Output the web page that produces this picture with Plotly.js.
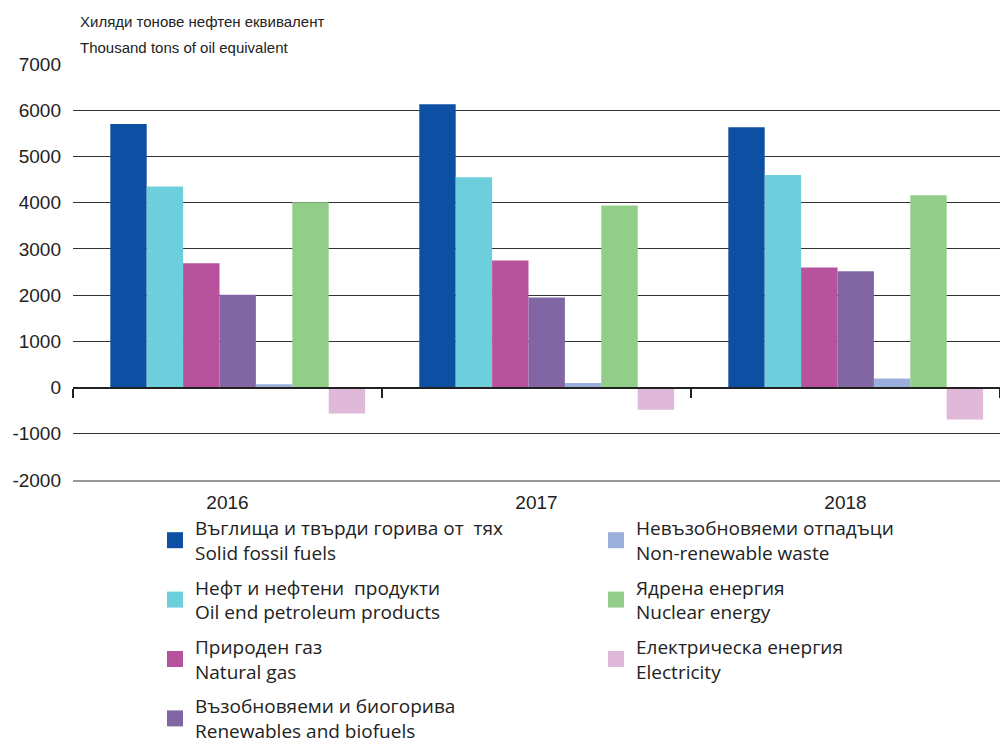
<!DOCTYPE html>
<html><head><meta charset="utf-8">
<script src="https://cdn.plot.ly/plotly-3.0.1.min.js"></script>
<style>html,body{margin:0;padding:0;background:#fff}</style>
</head><body><div id="chart" style="width:1000px;height:747px"></div>
<script>
const years = ['2016', '2017', '2018'];
const namesBg = ['Въглища и твърди горива от  тях', 'Нефт и нефтени  продукти', 'Природен газ', 'Възобновяеми и биогорива', 'Невъзобновяеми отпадъци', 'Ядрена енергия', 'Електрическа енергия'];
const namesEn = ['Solid fossil fuels', 'Oil end petroleum products', 'Natural gas', 'Renewables and biofuels', 'Non-renewable waste', 'Nuclear energy', 'Electricity'];
const solidFossil = [5700, 6130, 5630];
const oilProducts = [4350, 4550, 4600];
const naturalGas = [2690, 2750, 2600];
const renewables = [2010, 1950, 2515];
const nonRenewableWaste = [70, 100, 195];
const nuclear = [4010, 3940, 4160];
const electricity = [-560, -480, -690];
const yTicks = [-2000, -1000, 0, 1000, 2000, 3000, 4000, 5000, 6000, 7000];
const colors = ['#0d4fa3', '#6dcedc', '#b7529c', '#8166a4', '#9aafdb', '#92cd8a', '#dfb9d7'];
const legendColumn = ['legend', 'legend', 'legend', 'legend', 'legend2', 'legend2', 'legend2'];

const series = [solidFossil, oilProducts, naturalGas, renewables, nonRenewableWaste, nuclear, electricity];
const yMin = -2000, yMax = 7000;
const n = series.length;
const bw = 0.1178, shift = 0.033;
const FONT = 'Liberation Sans, Arial, sans-serif';
const LFONT = {size: 19, family: 'Open Sans, ' + FONT, color: '#222'};

const bars = series.map((vals, i) => ({
  type: 'bar',
  x: years,
  y: vals,
  name: namesBg[i] + '<br>' + namesEn[i],
  marker: {color: colors[i], line: {width: 0}},
  width: bw,
  offset: -n * bw / 2 + shift + i * bw,
  showlegend: false,
  hoverinfo: 'y+name'
}));

// legend entries (no data points), on the overlay axis that draws the zero line
const legendEntries = series.map((vals, i) => ({
  type: 'scatter', mode: 'markers',
  x: [null], y: [null], xaxis: 'x2',
  name: namesBg[i] + '<br>' + namesEn[i],
  marker: {color: colors[i], symbol: 'square', size: 16, line: {width: 0}},
  legend: legendColumn[i], legendgroup: 'g' + i,
  showlegend: true, hoverinfo: 'skip'
}));

const legendBase = {
  orientation: 'v', xref: 'container', yref: 'container',
  y: 1 - 509 / 747, xanchor: 'left', yanchor: 'top',
  font: LFONT, bgcolor: 'rgba(0,0,0,0)', traceorder: 'grouped',
  tracegroupgap: 7, itemsizing: 'trace'
};

const layout = {
  width: 1000, height: 747,
  margin: {l: 73, r: 0, t: 64, b: 267, autoexpand: false},
  paper_bgcolor: '#fff', plot_bgcolor: '#fff',
  font: {family: FONT, color: '#222'},
  barmode: 'group',
  showlegend: true,
  xaxis: {
    type: 'category', categoryorder: 'array', categoryarray: years,
    range: [-0.5, 2.5], showgrid: false, zeroline: false,
    ticks: '', showline: true, linecolor: '#999', linewidth: 2,
    ticklabelstandoff: 4, automargin: false, tickangle: 0,
    tickfont: {size: 19, family: FONT, color: '#222'}
  },
  xaxis2: {
    overlaying: 'x', anchor: 'free', side: 'bottom',
    position: (0 - yMin) / (yMax - yMin),
    type: 'linear', range: [-0.5, 2.5], tickmode: 'linear', tick0: -0.5, dtick: 1,
    ticks: 'outside', ticklen: 9, tickwidth: 2, tickcolor: '#222',
    showticklabels: false, showline: true, linecolor: '#222', linewidth: 2,
    showgrid: false, zeroline: false, fixedrange: true, automargin: false
  },
  yaxis: {
    range: [yMin, yMax], tickmode: 'array', tickvals: yTicks,
    ticktext: yTicks.map(v => String(v)),
    showgrid: true, gridcolor: '#333', gridwidth: 1,
    zeroline: false, showline: false, ticks: '', ticklabelstandoff: 11,
    automargin: false,
    tickfont: {size: 19, family: FONT, color: '#222'}
  },
  legend: Object.assign({}, legendBase, {x: 0.155}),
  legend2: Object.assign({}, legendBase, {x: 0.596}),
  annotations: [
    {text: 'Хиляди тонове нефтен еквивалент', xref: 'paper', yref: 'paper',
     x: (78 - 73) / 927, y: (480 - 22) / 416, xanchor: 'left', yanchor: 'middle',
     showarrow: false, font: {size: 15, family: FONT, color: '#222'}},
    {text: 'Thousand tons of oil equivalent', xref: 'paper', yref: 'paper',
     x: (78 - 73) / 927, y: (480 - 48) / 416, xanchor: 'left', yanchor: 'middle',
     showarrow: false, font: {size: 15, family: FONT, color: '#222'}}
  ]
};

Plotly.newPlot('chart', bars.concat(legendEntries), layout, {displayModeBar: false, staticPlot: true});
</script></body></html>
